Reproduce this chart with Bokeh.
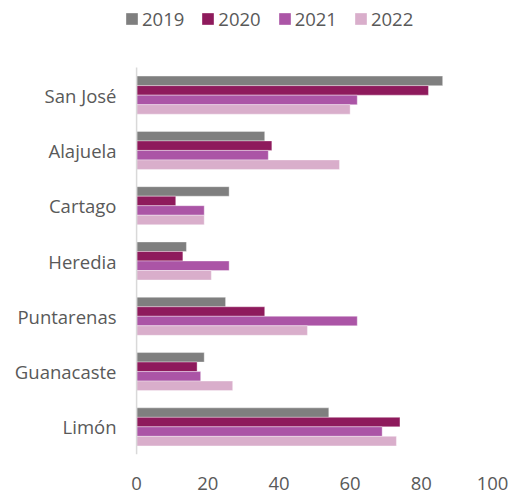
from bokeh.plotting import figure
from bokeh.models import ColumnDataSource, Range1d, FixedTicker, Legend, LegendItem
from bokeh.transform import dodge
from bokeh.embed import file_html
from bokeh.resources import INLINE

provinces = ["San José", "Alajuela", "Cartago", "Heredia", "Puntarenas", "Guanacaste", "Limón"]
years = ["2019", "2020", "2021", "2022"]
v2019 = [86, 36, 26, 14, 25, 19, 54]
v2020 = [82, 38, 11, 13, 36, 17, 74]
v2021 = [62, 37, 19, 26, 62, 18, 69]
v2022 = [60, 57, 19, 21, 48, 27, 73]
x_ticks = [0, 20, 40, 60, 80, 100]

colors = ["#7f7f7f", "#8e1a5c", "#ab55a6", "#d9aecb"]
FONT = "Open Sans"
TXT = "#595959"
FS = "18.5px"

n = len(provinces)
ypos = [n - 1 - i for i in range(n)]  # San José at top
source = ColumnDataSource(dict(prov=provinces, ypos=ypos,
                               y2019=v2019, y2020=v2020, y2021=v2021, y2022=v2022))

# frame: x 124..492, y 6..454 ; 55.29 px per category
W, H = 512, 493
top_px, bot_px = 6, 454
per_cat = (bot_px - 67) / n
y_lo = -0.5
y_hi = y_lo + (bot_px - top_px) / per_cat

p = figure(width=W, height=H, output_backend="svg", toolbar_location=None,
           y_range=Range1d(y_lo, y_hi), x_range=Range1d(-3.4, 100),
           min_border_left=124, min_border_right=W - 492,
           min_border_top=top_px, min_border_bottom=H - bot_px)

bh = 0.172
offsets = [1.5 * bh, 0.5 * bh, -0.5 * bh, -1.5 * bh]
cols = ["y2019", "y2020", "y2021", "y2022"]
renderers = []
for col, off, c in zip(cols, offsets, colors):
    r = p.hbar(y=dodge("ypos", off), right=col, left=0, height=bh,
               source=source, fill_color=c, line_color="white", line_width=0.6, line_alpha=0.6)
    renderers.append(r)

# vertical category axis line at x = 0 spanning the category bands
p.segment(x0=[0], y0=[-0.5], x1=[0], y1=[n - 0.5], line_color="#d9d9d9", line_width=1.5)

p.xgrid.visible = False
p.ygrid.visible = False
p.outline_line_color = None

p.xaxis.ticker = FixedTicker(ticks=x_ticks)
p.xaxis.axis_line_color = None
p.xaxis.major_tick_line_color = None
p.xaxis.minor_tick_line_color = None
p.xaxis.major_tick_out = 0
p.xaxis.major_label_standoff = 22
p.xaxis.major_label_text_font = FONT
p.xaxis.major_label_text_font_size = FS
p.xaxis.major_label_text_color = TXT

p.yaxis.ticker = FixedTicker(ticks=ypos)
p.yaxis.major_label_overrides = {yp: name for yp, name in zip(ypos, provinces)}
p.yaxis.axis_line_color = None
p.yaxis.major_tick_line_color = None
p.yaxis.minor_tick_line_color = None
p.yaxis.major_tick_out = 0
p.yaxis.major_label_standoff = 8
p.yaxis.major_label_text_font = FONT
p.yaxis.major_label_text_font_size = FS
p.yaxis.major_label_text_color = TXT

legend = Legend(items=[LegendItem(label=y, renderers=[r]) for y, r in zip(years, renderers)],
                orientation="horizontal", location="top_left",
                glyph_width=15, glyph_height=15, label_standoff=3, spacing=16,
                padding=0, margin=0, border_line_color=None, background_fill_alpha=0,
                label_text_font=FONT, label_text_font_size=FS, label_text_color=TXT,
                label_height=20)
p.add_layout(legend)

open("out.html", "w").write(file_html(p, INLINE))
